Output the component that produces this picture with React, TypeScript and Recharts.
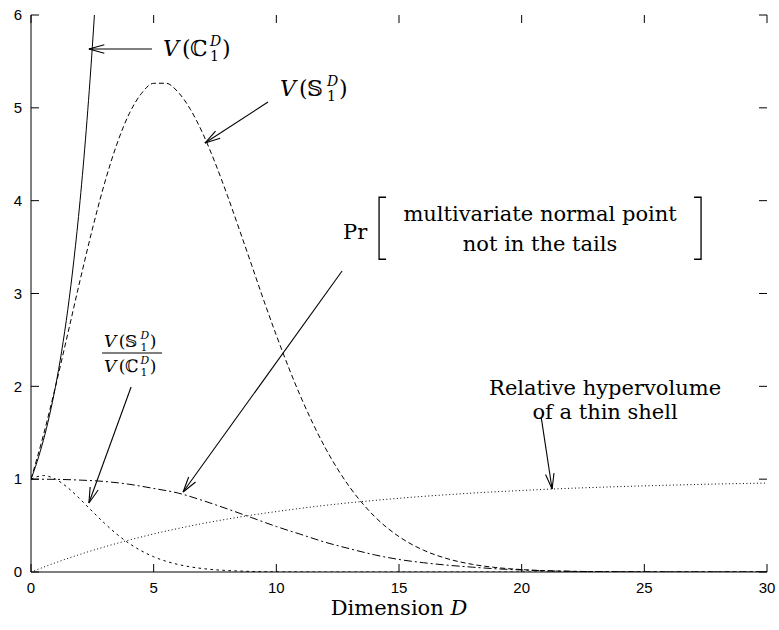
import React from 'react';
import { LineChart, Line, XAxis, YAxis, ReferenceLine, ReferenceDot } from 'recharts';

// ---- data ----
const cubeD = [0, 0.25, 0.5, 0.75, 1, 1.25, 1.5, 1.75, 2, 2.25, 2.5, 2.585];
const cubeV = [1, 1.189, 1.414, 1.682, 2, 2.378, 2.828, 3.364, 4, 4.757, 5.657, 6];

const ballD = [0, 0.5, 1, 1.5, 2, 2.5, 3, 3.5, 4, 4.5, 5, 5.5, 6, 6.5, 7, 7.5, 8, 8.5, 9, 9.5, 10, 11, 12, 13, 14, 15, 16, 17, 18, 19, 20, 21, 22, 23, 24, 25, 26, 27, 28, 29, 30];
const ballV = [1, 1.469, 2, 2.568, 3.142, 3.692, 4.189, 4.609, 4.935, 5.154, 5.264, 5.265, 5.168, 4.982, 4.725, 4.411, 4.059, 3.683, 3.301, 2.917, 2.55, 1.884, 1.335, 0.911, 0.599, 0.381, 0.235, 0.141, 0.082, 0.047, 0.026, 0.014, 0.007, 0.004, 0.002, 0.001, 0, 0, 0, 0, 0];

const ratioD = [0, 0.5, 1, 1.5, 2, 2.5, 3, 3.5, 4, 4.5, 5, 5.5, 6, 6.5, 7, 7.5, 8, 9, 10, 11, 12, 14, 16, 18, 20, 22, 24, 26, 28, 30];
const ratioV = [1, 1.039, 1, 0.908, 0.785, 0.653, 0.524, 0.407, 0.308, 0.228, 0.164, 0.116, 0.081, 0.055, 0.037, 0.024, 0.016, 0.006, 0.002, 0.001, 0, 0, 0, 0, 0, 0, 0, 0, 0, 0];

const normD = [0, 1, 2, 3, 4, 5, 6, 7, 8, 9, 10, 11, 12, 13, 14, 15, 16, 17, 18, 19, 20, 21, 22, 23, 24, 25, 26, 27, 28, 29, 30];
const normV = [1, 0.998, 0.99, 0.975, 0.945, 0.9, 0.85, 0.77, 0.68, 0.585, 0.49, 0.405, 0.32, 0.25, 0.185, 0.135, 0.1, 0.073, 0.052, 0.034, 0.022, 0.013, 0.008, 0.004, 0.002, 0.001, 0, 0, 0, 0, 0];

const shellD = [0, 1, 2, 3, 4, 5, 6, 7, 8, 9, 10, 11, 12, 13, 14, 15, 16, 17, 18, 19, 20, 21, 22, 23, 24, 25, 26, 27, 28, 29, 30];
const shellV = [0, 0.1, 0.19, 0.271, 0.344, 0.41, 0.469, 0.522, 0.57, 0.613, 0.651, 0.686, 0.718, 0.746, 0.771, 0.794, 0.815, 0.833, 0.85, 0.865, 0.878, 0.891, 0.902, 0.911, 0.92, 0.928, 0.935, 0.942, 0.948, 0.953, 0.958];

const xTicks = [0, 5, 10, 15, 20, 25, 30];
const yTicks = [0, 1, 2, 3, 4, 5, 6];

const xLabel = 'Dimension';
const prLine1 = 'multivariate normal point';
const prLine2 = 'not in the tails';
const shellLine1 = 'Relative hypervolume';
const shellLine2 = 'of a thin shell';

const toPts = (xs: number[], ys: number[]) => xs.map((x, i) => ({ x, y: ys[i] }));

const SERIF = '"DejaVu Serif", "Liberation Serif", serif';
const SANS = '"Liberation Sans", Arial, sans-serif';
const TICK = 8;

const Arrow = (p: any) => {
  const { x1, y1, x2, y2 } = p;
  const ang = Math.atan2(y2 - y1, x2 - x1);
  const L = 16;
  const a = 0.27;
  const h1x = x2 - L * Math.cos(ang - a);
  const h1y = y2 - L * Math.sin(ang - a);
  const h2x = x2 - L * Math.cos(ang + a);
  const h2y = y2 - L * Math.sin(ang + a);
  return (
    <g stroke="#000" strokeWidth={1.1} fill="none">
      <line x1={x1} y1={y1} x2={x2} y2={y2} />
      <line x1={x2} y1={y2} x2={h1x} y2={h1y} />
      <line x1={x2} y1={y2} x2={h2x} y2={h2y} />
    </g>
  );
};

// inward tick marks at both ends of a vertical reference line
const VTick = (p: any) => {
  const x = p.x1;
  const top = Math.min(p.y1, p.y2);
  const bot = Math.max(p.y1, p.y2);
  return (
    <g stroke="#000" strokeWidth={1}>
      <line x1={x} y1={top} x2={x} y2={top + TICK} />
      <line x1={x} y1={bot} x2={x} y2={bot - TICK} />
    </g>
  );
};

// inward tick marks at both ends of a horizontal reference line
const HTick = (p: any) => {
  const y = p.y1;
  const l = Math.min(p.x1, p.x2);
  const r = Math.max(p.x1, p.x2);
  return (
    <g stroke="#000" strokeWidth={1}>
      <line x1={l} y1={y} x2={l + TICK} y2={y} />
      <line x1={r} y1={y} x2={r - TICK} y2={y} />
    </g>
  );
};

// V(X_1^D) drawn with baseline at (x, y), font size s
const MathV = ({ x, y, s, bb }: { x: number; y: number; s: number; bb: string }) => {
  const k = s / 22;
  return (
    <g fontFamily={SERIF} fill="#000">
      <text x={x} y={y} fontSize={s} fontStyle="italic">V</text>
      <text x={x + 19 * k} y={y} fontSize={s}>(</text>
      <text x={x + 27 * k} y={y} fontSize={s}>{bb}</text>
      <text x={x + 47 * k} y={y - 10 * k} fontSize={14 * k} fontStyle="italic">D</text>
      <text x={x + 47 * k} y={y + 5 * k} fontSize={14 * k}>1</text>
      <text x={x + 59 * k} y={y} fontSize={s}>)</text>
    </g>
  );
};

const CubeLabel = (p: any) => <MathV x={p.cx} y={p.cy + 8} s={22} bb={'\u2102'} />;
const BallLabel = (p: any) => <MathV x={p.cx} y={p.cy + 8} s={22} bb={'\u{1D54A}'} />;

const RatioLabel = (p: any) => {
  const { cx, cy } = p;
  return (
    <g>
      <MathV x={cx - 28} y={cy - 6} s={17} bb={'\u{1D54A}'} />
      <line x1={cx - 30} y1={cy} x2={cx + 30} y2={cy} stroke="#000" strokeWidth={1.2} />
      <MathV x={cx - 28} y={cy + 19} s={17} bb={'\u2102'} />
    </g>
  );
};

const PrLabel = (p: any) => {
  const { cx, cy } = p;
  const lx = cx + 36;
  const rx = cx + 358;
  const top = cy - 35;
  const bot = cy + 27;
  return (
    <g fontFamily={SERIF} fill="#000">
      <text x={cx} y={cy + 7} fontSize={21}>Pr</text>
      <path d={`M${lx + 7},${top} H${lx} V${bot} H${lx + 7}`} stroke="#000" strokeWidth={1.3} fill="none" />
      <path d={`M${rx - 7},${top} H${rx} V${bot} H${rx - 7}`} stroke="#000" strokeWidth={1.3} fill="none" />
      <text x={cx + 197} y={cy - 11} fontSize={21} textAnchor="middle">{prLine1}</text>
      <text x={cx + 197} y={cy + 19} fontSize={21} textAnchor="middle">{prLine2}</text>
    </g>
  );
};

const ShellLabel = (p: any) => {
  const { cx, cy } = p;
  return (
    <g fontFamily={SERIF} fill="#000">
      <text x={cx} y={cy + 7} fontSize={21} textAnchor="middle">{shellLine1}</text>
      <text x={cx} y={cy + 31} fontSize={21} textAnchor="middle">{shellLine2}</text>
    </g>
  );
};

const XTitle = (p: any) => (
  <text x={p.cx} y={p.cy + 43} fontFamily={SERIF} fontSize={21} textAnchor="middle" fill="#000">
    {xLabel} <tspan fontStyle="italic">D</tspan>
  </text>
);

export default function App() {
  return (
    <div style={{ position: 'absolute', left: 0, top: 0, width: 779, height: 630 }}>
      <LineChart width={779} height={630} margin={{ top: 15, right: 12, left: 0, bottom: 28 }}>
        <XAxis
          xAxisId="b"
          dataKey="x"
          type="number"
          domain={[0, 30]}
          ticks={xTicks}
          interval={0}
          allowDataOverflow
          tickSize={0}
          tickMargin={10}
          height={30}
          axisLine={{ stroke: '#000' }}
          tickLine={false}
          tick={{ fill: '#000', fontSize: 15, fontFamily: SANS }}
        />
        <XAxis
          xAxisId="t"
          orientation="top"
          dataKey="x"
          type="number"
          domain={[0, 30]}
          ticks={xTicks}
          height={0}
          axisLine={{ stroke: '#000' }}
          tickLine={false}
          tick={false}
        />
        <YAxis
          yAxisId="l"
          type="number"
          domain={[0, 6]}
          ticks={yTicks}
          interval={0}
          allowDataOverflow
          tickSize={0}
          tickMargin={9}
          width={31}
          axisLine={{ stroke: '#000' }}
          tickLine={false}
          tick={{ fill: '#000', fontSize: 15, fontFamily: SANS }}
        />
        <YAxis
          yAxisId="r"
          orientation="right"
          type="number"
          domain={[0, 6]}
          ticks={yTicks}
          width={0}
          axisLine={{ stroke: '#000' }}
          tickLine={false}
          tick={false}
        />

        {xTicks.map((t) => (
          <ReferenceLine key={'xt' + t} xAxisId="b" yAxisId="l" x={t} shape={VTick} />
        ))}
        {yTicks.map((t) => (
          <ReferenceLine key={'yt' + t} xAxisId="b" yAxisId="l" y={t} shape={HTick} />
        ))}

        <Line xAxisId="b" yAxisId="l" data={toPts(shellD, shellV)} dataKey="y" type="monotone" stroke="#000" strokeWidth={1} strokeDasharray="1 2.5" dot={false} isAnimationActive={false} />
        <Line xAxisId="b" yAxisId="l" data={toPts(normD, normV)} dataKey="y" type="monotone" stroke="#000" strokeWidth={1} strokeDasharray="8 3 2 3" dot={false} isAnimationActive={false} />
        <Line xAxisId="b" yAxisId="l" data={toPts(ratioD, ratioV)} dataKey="y" type="monotone" stroke="#000" strokeWidth={1} strokeDasharray="2.5 3.5" dot={false} isAnimationActive={false} />
        <Line xAxisId="b" yAxisId="l" data={toPts(ballD, ballV)} dataKey="y" type="monotone" stroke="#000" strokeWidth={1} strokeDasharray="5 3" dot={false} isAnimationActive={false} />
        <Line xAxisId="b" yAxisId="l" data={toPts(cubeD, cubeV)} dataKey="y" type="monotone" stroke="#000" strokeWidth={1} dot={false} isAnimationActive={false} />

        <ReferenceLine xAxisId="b" yAxisId="l" segment={[{ x: 4.93, y: 5.634 }, { x: 2.36, y: 5.634 }]} shape={Arrow} />
        <ReferenceLine xAxisId="b" yAxisId="l" segment={[{ x: 9.66, y: 5.063 }, { x: 7.09, y: 4.621 }]} shape={Arrow} />
        <ReferenceLine xAxisId="b" yAxisId="l" segment={[{ x: 4.08, y: 1.993 }, { x: 2.36, y: 0.743 }]} shape={Arrow} />
        <ReferenceLine xAxisId="b" yAxisId="l" segment={[{ x: 12.68, y: 3.242 }, { x: 6.2, y: 0.862 }]} shape={Arrow} />
        <ReferenceLine xAxisId="b" yAxisId="l" segment={[{ x: 20.8, y: 1.66 }, { x: 21.24, y: 0.894 }]} shape={Arrow} />

        <ReferenceDot xAxisId="b" yAxisId="l" x={5.38} y={5.645} r={1} shape={CubeLabel} />
        <ReferenceDot xAxisId="b" yAxisId="l" x={10.15} y={5.214} r={1} shape={BallLabel} />
        <ReferenceDot xAxisId="b" yAxisId="l" x={4.12} y={2.359} r={1} shape={RatioLabel} />
        <ReferenceDot xAxisId="b" yAxisId="l" x={12.72} y={3.66} r={1} shape={PrLabel} />
        <ReferenceDot xAxisId="b" yAxisId="l" x={23.4} y={1.98} r={1} shape={ShellLabel} />
        <ReferenceDot xAxisId="b" yAxisId="l" x={15} y={0} r={1} ifOverflow="visible" shape={XTitle} />
      </LineChart>
    </div>
  );
}
